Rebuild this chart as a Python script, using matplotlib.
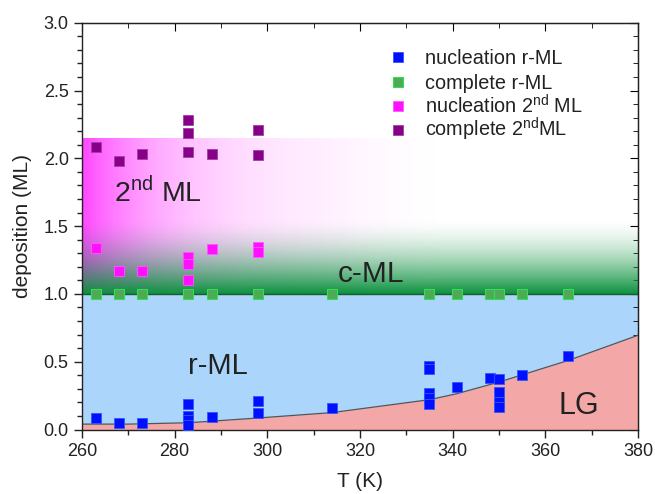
import numpy as np
import matplotlib
matplotlib.use("Agg")
import matplotlib.pyplot as plt
from matplotlib.ticker import MultipleLocator, FormatStrFormatter

plt.rcParams['font.family'] = ['Liberation Sans', 'DejaVu Sans']
plt.rcParams['mathtext.fontset'] = 'custom'
plt.rcParams['mathtext.rm'] = 'Liberation Sans'

# ---- data ----
nuc_r_T = [263, 268, 273, 283, 283, 283, 283, 288, 298, 298, 314,
           335, 335, 335, 335, 335, 341, 348, 350, 350, 350, 350, 355, 365]
nuc_r_d = [0.085, 0.045, 0.048, 0.19, 0.10, 0.07, 0.03, 0.09, 0.21, 0.12, 0.16,
           0.47, 0.45, 0.27, 0.23, 0.19, 0.31, 0.38, 0.37, 0.275, 0.20, 0.165, 0.40, 0.54]

comp_r_T = [263, 268, 273, 283, 288, 298, 314, 335, 341, 348, 350, 355, 365]
comp_r_d = [1.0] * len(comp_r_T)

nuc_2_T = [263, 268, 273, 283, 283, 283, 288, 298, 298]
nuc_2_d = [1.34, 1.17, 1.17, 1.27, 1.22, 1.10, 1.335, 1.345, 1.31]

comp_2_T = [263, 268, 273, 283, 283, 283, 288, 298, 298]
comp_2_d = [2.085, 1.98, 2.03, 2.28, 2.19, 2.05, 2.03, 2.21, 2.025]

lg_T = [260, 270, 283, 298, 314, 335, 341, 350, 365, 380]
lg_d = [0.04, 0.04, 0.05, 0.085, 0.125, 0.22, 0.265, 0.35, 0.51, 0.695]

legend_labels = ["nucleation r-ML", "complete r-ML",
                 "nucleation 2$^{\\mathrm{nd}}$ ML", "complete 2$^{\\mathrm{nd}}$ML"]

# ---- figure ----
fig = plt.figure(figsize=(6.55, 4.94), dpi=100)
ax = fig.add_axes([0.125, 0.1305, 0.849, 0.8235])
xmin, xmax, ymin, ymax = 260, 380, 0.0, 3.0

# regions
ax.fill_between([xmin, xmax], 0, 1.0, color='#abd5fb', zorder=0, linewidth=0)
ax.fill_between(lg_T, 0, lg_d, color='#f4a7a7', zorder=1, linewidth=0)
ax.plot(lg_T, lg_d, color='#555555', lw=0.9, zorder=2)

# magenta horizontal gradient (2nd ML)
nx = 240
xe = np.linspace(xmin, xmax, nx + 1)
xc = 0.5 * (xe[:-1] + xe[1:])
alpha_m = np.exp(-(xc - xmin) / 21.0) * np.clip((338 - xc) / 22.0, 0, 1)
C_m = np.zeros((1, nx, 4))
C_m[..., 0] = 1.0
C_m[..., 1] = 0.27
C_m[..., 2] = 1.0
C_m[..., 3] = alpha_m[None, :]
ax.pcolormesh(xe, [1.0, 2.15], C_m, shading='flat', edgecolors='none',
              linewidth=0, antialiased=False, zorder=1)

# green vertical gradient (c-ML)
ny = 160
ye = np.linspace(1.0, 1.55, ny + 1)
yc = 0.5 * (ye[:-1] + ye[1:])
alpha_g = np.clip(1 - (yc - 1.0) / 0.55, 0, 1) ** 1.6
C_g = np.zeros((ny, 1, 4))
C_g[..., 0] = 0.04
C_g[..., 1] = 0.57
C_g[..., 2] = 0.24
C_g[..., 3] = alpha_g[:, None]
ax.pcolormesh([xmin, xmax], ye, C_g, shading='flat', edgecolors='none',
              linewidth=0, antialiased=False, zorder=1.5)

ax.axhline(1.0, color='#1e5a30', lw=1.0, zorder=2)

# points
ms = 7.5
styles = [
    dict(color='#0010ff', mec='#3355ff', mew=0.6),
    dict(color='#4faa55', mec='#33dd55', mew=0.8),
    dict(color='#ff10ff', mec='#ff55ff', mew=0.6),
    dict(color='#870087', mec='#a040a0', mew=0.6),
]
series = [(nuc_r_T, nuc_r_d), (comp_r_T, comp_r_d), (nuc_2_T, nuc_2_d), (comp_2_T, comp_2_d)]
for (xs_, ys_), st in zip(series, styles):
    ax.plot(xs_, ys_, 's', ms=ms, zorder=5, **st)

# manual legend (even row spacing)
row_centers = [0.9152, 0.8538, 0.7947, 0.7365]
for lab, st, yc_ in zip(legend_labels, styles, row_centers):
    ax.plot([0.568], [yc_], 's', ms=6.5, transform=ax.transAxes, zorder=6,
            clip_on=False, **st)
    ax.text(0.617, yc_ - 0.0172, lab, transform=ax.transAxes, fontsize=14.3,
            color='#222222', ha='left', va='baseline', zorder=6)

# region labels
ax.text(267.0, 1.75, "2$^{\\mathrm{nd}}$ ML", fontsize=20.5, color='#222222',
        ha='left', va='center', zorder=6)
ax.text(315.3, 1.15, "c-ML", fontsize=21.5, color='#222222', ha='left', va='center', zorder=6)
ax.text(282.9, 0.47, "r-ML", fontsize=21, color='#222222', ha='left', va='center', zorder=6)
ax.text(362.8, 0.175, "LG", fontsize=22, color='#222222', ha='left', va='center', zorder=6)

ax.set_xlim(xmin, xmax)
ax.set_ylim(ymin, ymax)
ax.xaxis.set_major_locator(MultipleLocator(20))
ax.xaxis.set_minor_locator(MultipleLocator(10))
ax.yaxis.set_major_locator(MultipleLocator(0.5))
ax.yaxis.set_minor_locator(MultipleLocator(0.1))
ax.yaxis.set_major_formatter(FormatStrFormatter('%.1f'))

ax.tick_params(which='both', direction='out', labelsize=13, width=1.0, color='#222222',
               labelcolor='#222222')
ax.tick_params(which='major', length=6)
ax.tick_params(which='minor', length=3.5)

# top / right inward ticks
ax2 = ax.secondary_xaxis('top')
ax2.xaxis.set_major_locator(MultipleLocator(20))
ax2.xaxis.set_minor_locator(MultipleLocator(10))
ax2.tick_params(which='both', direction='in', labeltop=False)
ax2.tick_params(which='major', length=6)
ax2.tick_params(which='minor', length=3.5)
ax3 = ax.secondary_yaxis('right')
ax3.yaxis.set_major_locator(MultipleLocator(0.5))
ax3.yaxis.set_minor_locator(MultipleLocator(0.1))
ax3.tick_params(which='both', direction='in', labelright=False)
ax3.tick_params(which='major', length=6)
ax3.tick_params(which='minor', length=3.5)

for sp in ax.spines.values():
    sp.set_linewidth(1.0)
    sp.set_color('#222222')

ax.set_xlabel("T (K)", fontsize=15, labelpad=9, color='#222222')
ax.set_ylabel("deposition (ML)", fontsize=15, labelpad=8, color='#222222')

fig.savefig("out.png", dpi=100)
